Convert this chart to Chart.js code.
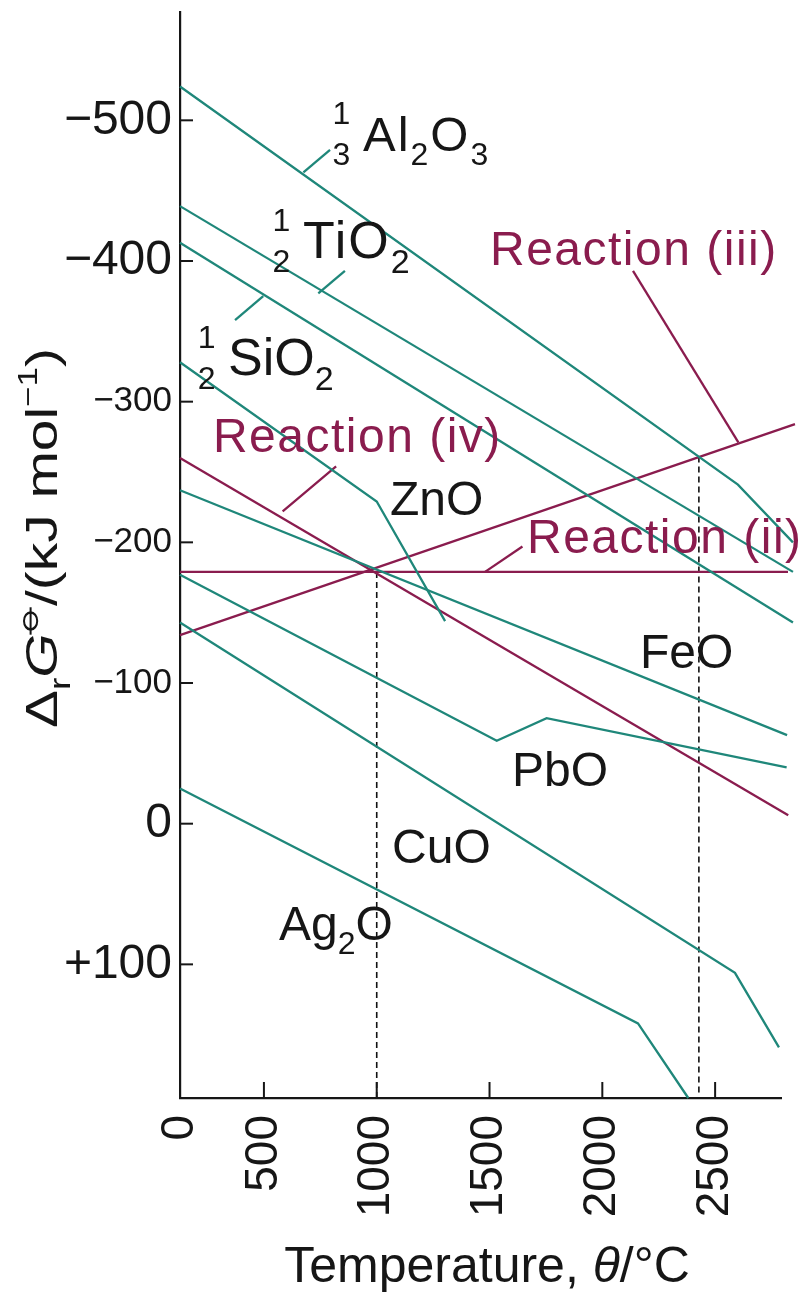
<!DOCTYPE html>
<html>
<head>
<meta charset="utf-8">
<script src="https://cdn.jsdelivr.net/npm/chart.js@4.4.1/dist/chart.umd.min.js"></script>
<style>
  html, body { margin: 0; padding: 0; background: #fff; }
</style>
</head>
<body>
<canvas id="ellingham" width="805" height="1293"></canvas>
<script>
// Ellingham diagram: temperature (degC) vs standard reaction Gibbs energy (kJ/mol)
var axisStartT = 128;   // left edge of the plot, labelled "0" in the figure
var axisEndT = 2792;
var gTop = -577, gBottom = 195;

var tempTicks = [0, 500, 1000, 1500, 2000, 2500];
var energyTicks = [-500, -400, -300, -200, -100, 0, 100];

// oxide lines
var al2o3T = [128, 2601, 2845];
var al2o3G = [-524, -241, -200];
var tio2T = [128, 2845];
var tio2G = [-439, -179];
var sio2T = [128, 2845];
var sio2G = [-413, -143];
var znoT = [128, 1000, 1303];
var znoG = [-328, -229, -144];
var feoT = [128, 2819];
var feoG = [-237, -63];
var pboT = [128, 1532, 1753, 2817];
var pboG = [-177, -59, -75, -40];
var cuoT = [128, 2588, 2783];
var cuoG = [-143, 106, 159];
var ag2oT = [128, 2158, 2381];
var ag2oG = [-25, 142, 195];

// carbon reactions
var reac2T = [128, 2823];
var reac2G = [-179, -179];
var reac3T = [128, 2854];
var reac3G = [-134, -284];
var reac4T = [128, 2824];
var reac4G = [-260, -6];

// dashed guides
var guide1T = [1000, 1000];
var guide1G = [-179, 195];
var guide2T = [2428, 2428];
var guide2G = [-261, 192];

// leader lines from labels to curves
var leadAlT = [675, 793], leadAlG = [-463, -479];
var leadTiT = [741, 859], leadTiG = [-377, -393];
var leadSiT = [372, 497], leadSiG = [-358, -375];
var leadR4T = [583, 820], leadR4G = [-222, -254];
var leadR3T = [2136, 2603], leadR3G = [-393, -271];
var leadR2T = [1480, 1646], leadR2G = [-179, -197];

var TEAL = '#1f877a';
var MAROON = '#8a1c4e';
var INK = '#161616';
var FONT = '"Liberation Sans", Arial, sans-serif';

function series(T, G, color, width, dash) {
  return {
    data: T.map(function(t, i) { return { x: t, y: G[i] }; }),
    borderColor: color,
    borderWidth: width || 2.3,
    borderDash: dash || [],
    pointRadius: 0,
    fill: false,
    tension: 0,
    clip: false
  };
}

// label anchors: left end of the text baseline, in data units
var labels = [
  { t: 939, g: -478, size: 49, sp: 2, color: INK, frac: ['1', '3'], parts: [['n', 'Al'], ['sub', '2'], ['n', 'O'], ['sub', '3']] },
  { t: 673, g: -402, size: 52, sp: 2, color: INK, frac: ['1', '2'], parts: [['n', 'Ti'], ['n', 'O'], ['sub', '2']] },
  { t: 341, g: -319, size: 52, sp: 0, color: INK, frac: ['1', '2'], parts: [['n', 'Si'], ['n', 'O'], ['sub', '2']] },
  { t: 1059, g: -219.5, size: 48, sp: 0, color: INK, parts: [['n', 'ZnO']] },
  { t: 2167, g: -111, size: 48, sp: 0, color: INK, parts: [['n', 'FeO']] },
  { t: 1600, g: -27, size: 48, sp: 0, color: INK, parts: [['n', 'PbO']] },
  { t: 1068, g: 28, size: 48, sp: 0, color: INK, parts: [['n', 'CuO']] },
  { t: 567, g: 83, size: 48, sp: 0, color: INK, parts: [['n', 'Ag'], ['sub', '2'], ['n', 'O']] },
  { t: 274, g: -264, size: 48, sp: 1.5, color: MAROON, parts: [['n', 'Reaction (iv)']] },
  { t: 1502, g: -397, size: 48, sp: 1.5, color: MAROON, parts: [['n', 'Reaction (iii)']] },
  { t: 1666, g: -192.5, size: 48, sp: 1.5, color: MAROON, parts: [['n', 'Reaction (ii)']] }
];

function drawRich(ctx, x, y, parts, size, sp) {
  ctx.textAlign = 'left';
  ctx.textBaseline = 'alphabetic';
  ctx.letterSpacing = sp + 'px';
  parts.forEach(function(p) {
    var kind = p[0], txt = p[1], dy = 0, f = size + 'px ' + FONT;
    if (kind === 'sub') { f = Math.round(size * 0.66) + 'px ' + FONT; dy = size * 0.29; }
    if (kind === 'sup') { f = Math.round(size * 0.62) + 'px ' + FONT; dy = -size * 0.45; }
    if (kind === 'it') { f = 'italic ' + size + 'px ' + FONT; }
    if (kind === 'plim') {
      var r = size * 0.15, cx = x + r + 3, cy = y - size * 0.6;
      ctx.beginPath(); ctx.arc(cx, cy, r, 0, Math.PI * 2); ctx.stroke();
      ctx.beginPath(); ctx.moveTo(cx - r - 4, cy); ctx.lineTo(cx + r + 4, cy); ctx.stroke();
      x += 2 * r + 8;
      return;
    }
    ctx.font = f;
    ctx.fillText(txt, x, y + dy);
    x += ctx.measureText(txt).width;
  });
  ctx.letterSpacing = '0px';
  return x;
}

function richWidth(ctx, parts, size) {
  var w = 0;
  parts.forEach(function(p) {
    var kind = p[0], f = size + 'px ' + FONT;
    if (kind === 'sub') f = Math.round(size * 0.66) + 'px ' + FONT;
    if (kind === 'sup') f = Math.round(size * 0.62) + 'px ' + FONT;
    if (kind === 'it') f = 'italic ' + size + 'px ' + FONT;
    if (kind === 'plim') { w += 2 * size * 0.15 + 8; return; }
    ctx.font = f;
    w += ctx.measureText(p[1]).width;
  });
  return w;
}

var textLayer = {
  id: 'textLayer',
  afterDraw: function(chart) {
    var ctx = chart.ctx, sx = chart.scales.x, sy = chart.scales.y, a = chart.chartArea;
    ctx.save();

    // inward tick marks
    ctx.strokeStyle = INK;
    ctx.lineWidth = 2;
    energyTicks.forEach(function(v) {
      var py = sy.getPixelForValue(v);
      ctx.beginPath(); ctx.moveTo(a.left, py); ctx.lineTo(a.left + 13, py); ctx.stroke();
    });
    tempTicks.forEach(function(v) {
      if (v === 0) return;
      var px = sx.getPixelForValue(v);
      ctx.beginPath(); ctx.moveTo(px, a.bottom); ctx.lineTo(px, a.bottom - 16); ctx.stroke();
    });

    // curve labels
    labels.forEach(function(l) {
      var x = sx.getPixelForValue(l.t), y = sy.getPixelForValue(l.g);
      ctx.fillStyle = l.color;
      if (l.frac) {
        ctx.font = '32px ' + FONT;
        ctx.textAlign = 'center';
        ctx.fillText(l.frac[0], x - 21.5, y - 27);
        ctx.fillText(l.frac[1], x - 21.5, y + 14);
      }
      drawRich(ctx, x, y, l.parts, l.size, l.sp);
    });

    // x axis title
    ctx.fillStyle = INK;
    var xParts = [['n', 'Temperature, '], ['it', '\u03b8'], ['n', '/\u00b0C']];
    var xw = richWidth(ctx, xParts, 50);
    drawRich(ctx, 487 - xw / 2, 1282, xParts, 50, 0);

    // y axis title, rotated
    var yParts = [['n', '\u0394'], ['sub', 'r'], ['it', 'G'], ['plim', ''], ['n', '/(kJ mol'], ['sup', '\u22121'], ['n', ')']];
    var ySize = 44;
    var yw = richWidth(ctx, yParts, ySize);
    ctx.translate(57, sy.getPixelForValue(-203));
    ctx.rotate(-Math.PI / 2);
    ctx.scale(380 / yw, 1);
    ctx.strokeStyle = INK;
    ctx.lineWidth = 2;
    drawRich(ctx, -yw / 2, 0, yParts, ySize, 0);

    ctx.restore();
  }
};

function noEdgePadding(s) {
  s.paddingTop = 0;
  s.paddingBottom = 0;
  s.paddingLeft = 0;
  s.paddingRight = 0;
}

var chart = new Chart(document.getElementById('ellingham').getContext('2d'), {
  type: 'line',
  data: {
    datasets: [
      series(al2o3T, al2o3G, TEAL),
      series(tio2T, tio2G, TEAL),
      series(sio2T, sio2G, TEAL),
      series(znoT, znoG, TEAL),
      series(feoT, feoG, TEAL),
      series(pboT, pboG, TEAL),
      series(cuoT, cuoG, TEAL),
      series(ag2oT, ag2oG, TEAL),
      series(reac2T, reac2G, MAROON),
      series(reac3T, reac3G, MAROON),
      series(reac4T, reac4G, MAROON),
      series(guide1T, guide1G, '#111', 1.6, [6, 4]),
      series(guide2T, guide2G, '#111', 1.6, [6, 4]),
      series(leadAlT, leadAlG, TEAL),
      series(leadTiT, leadTiG, TEAL),
      series(leadSiT, leadSiG, TEAL),
      series(leadR4T, leadR4G, MAROON),
      series(leadR3T, leadR3G, MAROON),
      series(leadR2T, leadR2G, MAROON)
    ]
  },
  options: {
    responsive: false,
    animation: false,
    layout: { padding: { top: 12, right: 24, left: 0, bottom: 0 } },
    plugins: {
      legend: { display: false },
      tooltip: { enabled: false }
    },
    scales: {
      x: {
        type: 'linear',
        min: axisStartT,
        max: axisEndT,
        grid: { drawOnChartArea: false, drawTicks: false },
        border: { color: INK, width: 2.2 },
        afterBuildTicks: function(s) {
          s.ticks = tempTicks.map(function(v) { return { value: v === 0 ? axisStartT : v }; });
        },
        afterFit: function(s) { s.height = 195; noEdgePadding(s); },
        ticks: {
          autoSkip: false,
          minRotation: 90,
          maxRotation: 90,
          padding: 17,
          color: INK,
          font: { family: FONT, size: 46 },
          callback: function(v) { return v === axisStartT ? '0' : String(v); }
        }
      },
      y: {
        type: 'linear',
        reverse: true,
        min: gTop,
        max: gBottom,
        grid: { drawOnChartArea: false, drawTicks: false },
        border: { color: INK, width: 2.2 },
        afterBuildTicks: function(s) {
          s.ticks = energyTicks.map(function(v) { return { value: v }; });
        },
        afterFit: function(s) { s.width = 180; noEdgePadding(s); },
        ticks: {
          autoSkip: false,
          padding: 8,
          color: INK,
          font: function(c) {
            var v = c.tick ? c.tick.value : 0;
            return { family: FONT, size: (v <= -100 && v >= -300) ? 35 : 48 };
          },
          callback: function(v) {
            if (v < 0) return '\u2212' + (-v);
            if (v > 0) return '+' + v;
            return '0';
          }
        }
      }
    }
  },
  plugins: [textLayer]
});
</script>
</body>
</html>
